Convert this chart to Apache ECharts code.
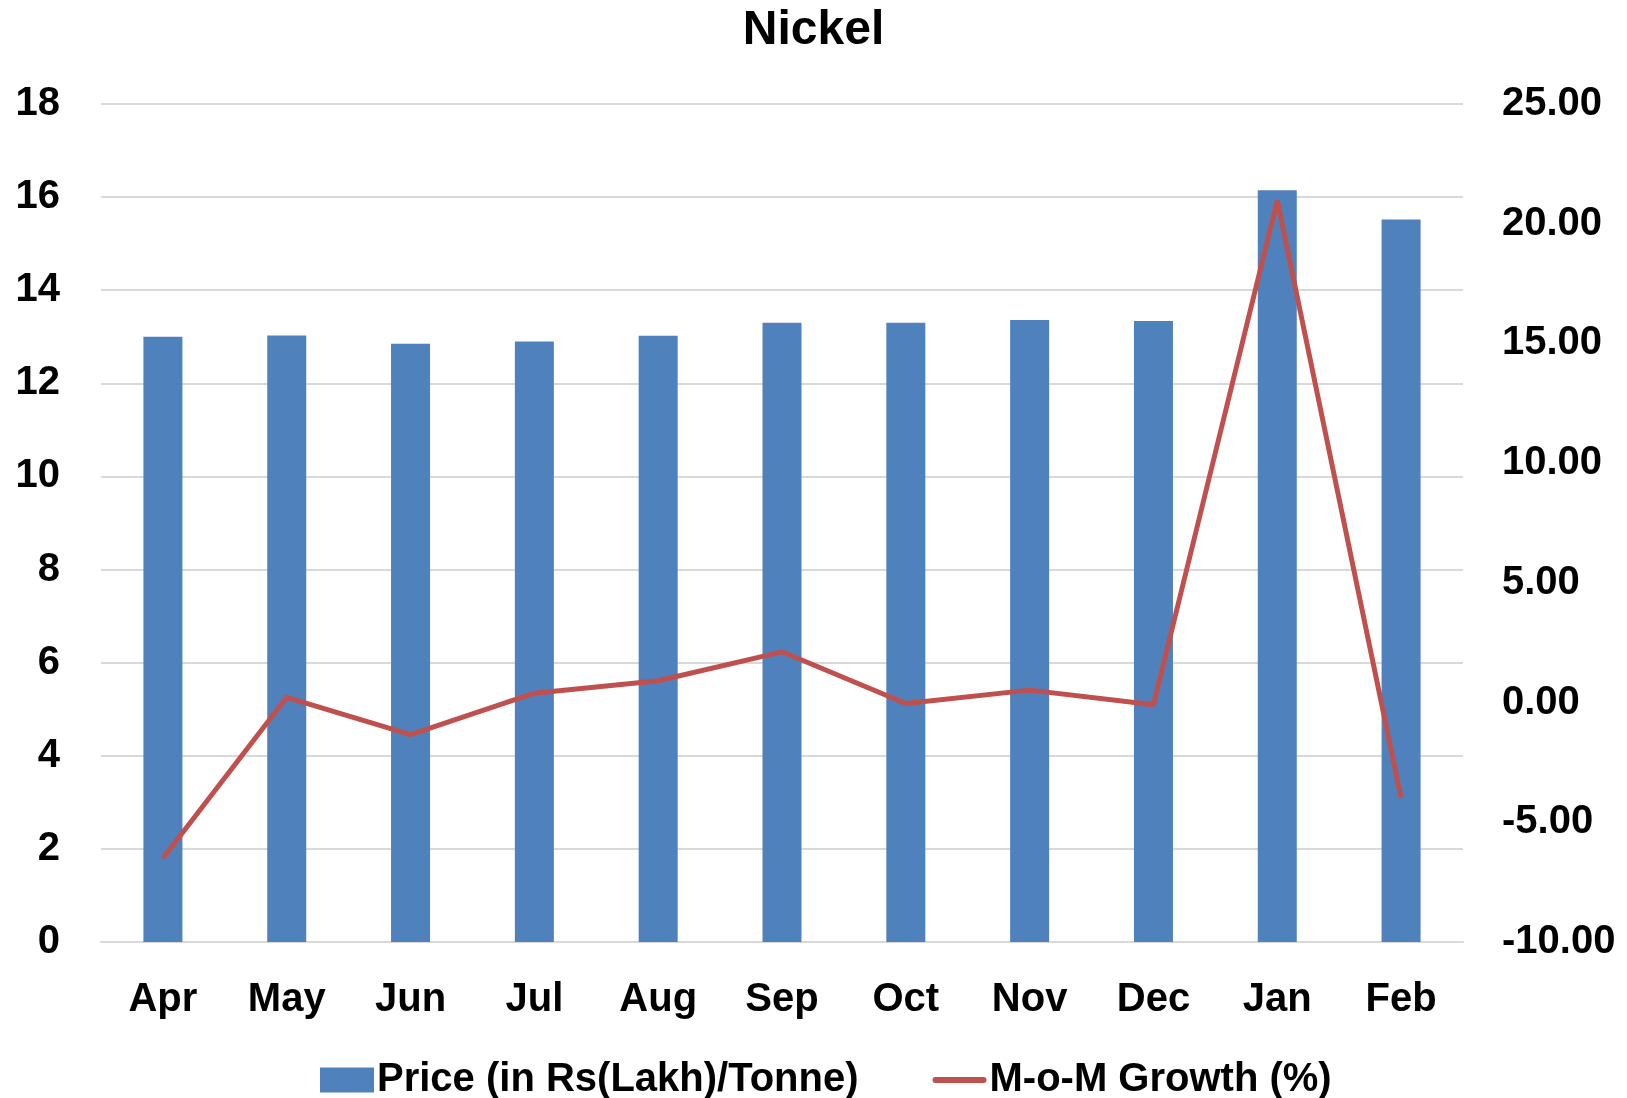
<!DOCTYPE html>
<html lang="en">
<head>
    <meta charset="UTF-8">
    <title>Nickel</title>
    <style>
        html, body { margin: 0; padding: 0; background: #fff; }
        #chart { width: 1627px; height: 1098px; }
    </style>
</head>
<body>
    <div id="chart"></div>
    <script src="https://cdn.jsdelivr.net/npm/echarts@6/dist/echarts.min.js"></script>
    <script>
        // data
        var months = ['Apr', 'May', 'Jun', 'Jul', 'Aug', 'Sep', 'Oct', 'Nov', 'Dec', 'Jan', 'Feb'];
        var price = [13.0, 13.03, 12.85, 12.9, 13.02, 13.3, 13.3, 13.36, 13.34, 16.15, 15.52];
        var growth = [-6.5, 0.22, -1.34, 0.39, 0.91, 2.12, -0.04, 0.52, -0.09, 20.97, -3.99];

        var font = 'Liberation Sans';
        var chart = echarts.init(document.getElementById('chart'));

        var option = {
            animation: false,
            title: {
                text: 'Nickel',
                left: 'center',
                top: 2,
                textStyle: { fontFamily: font, fontWeight: 'bold', fontSize: 48, color: '#000' }
            },
            legend: {
                bottom: -7,
                left: 315,
                padding: 5,
                itemGap: 74,
                itemWidth: 54,
                itemHeight: 25,
                textStyle: { fontFamily: font, fontWeight: 'bold', fontSize: 40, color: '#000', padding: [0, 0, 0, -2] },
                data: [
                    { name: 'Price (in Rs(Lakh)/Tonne)', icon: 'rect' },
                    { name: 'M-o-M Growth (%)', icon: 'path://M3,0 H51 A3,3 0 0 1 51,6 H3 A3,3 0 0 1 3,0 Z' }
                ]
            },
            grid: { left: 101, right: 164, top: 104, bottom: 156 },
            xAxis: {
                type: 'category',
                data: months,
                axisLine: { lineStyle: { color: '#d9d9d9', width: 2 } },
                axisTick: { show: false },
                axisLabel: { fontFamily: font, fontWeight: 'bold', fontSize: 40, color: '#000', margin: 38 }
            },
            yAxis: [{
                type: 'value',
                min: 0,
                max: 18,
                interval: 2,
                axisLine: { show: false },
                axisTick: { show: false },
                splitLine: { lineStyle: { color: '#d9d9d9', width: 2 } },
                axisLabel: { fontFamily: font, fontWeight: 'bold', fontSize: 40, color: '#000', margin: 41 }
            }, {
                type: 'value',
                min: -10,
                max: 25,
                interval: 5,
                axisLine: { show: false },
                axisTick: { show: false },
                splitLine: { show: false },
                axisLabel: {
                    fontFamily: font, fontWeight: 'bold', fontSize: 40, color: '#000', margin: 39,
                    formatter: function (v) { return v.toFixed(2); }
                }
            }],
            series: [{
                name: 'Price (in Rs(Lakh)/Tonne)',
                type: 'bar',
                data: price,
                barWidth: 39,
                itemStyle: { color: '#4F81BD' }
            }, {
                name: 'M-o-M Growth (%)',
                type: 'line',
                yAxisIndex: 1,
                data: growth,
                symbol: 'none',
                lineStyle: { color: '#C0504D', width: 5 },
                itemStyle: { color: '#C0504D' }
            }]
        };
        chart.setOption(option);
    </script>
</body>
</html>
